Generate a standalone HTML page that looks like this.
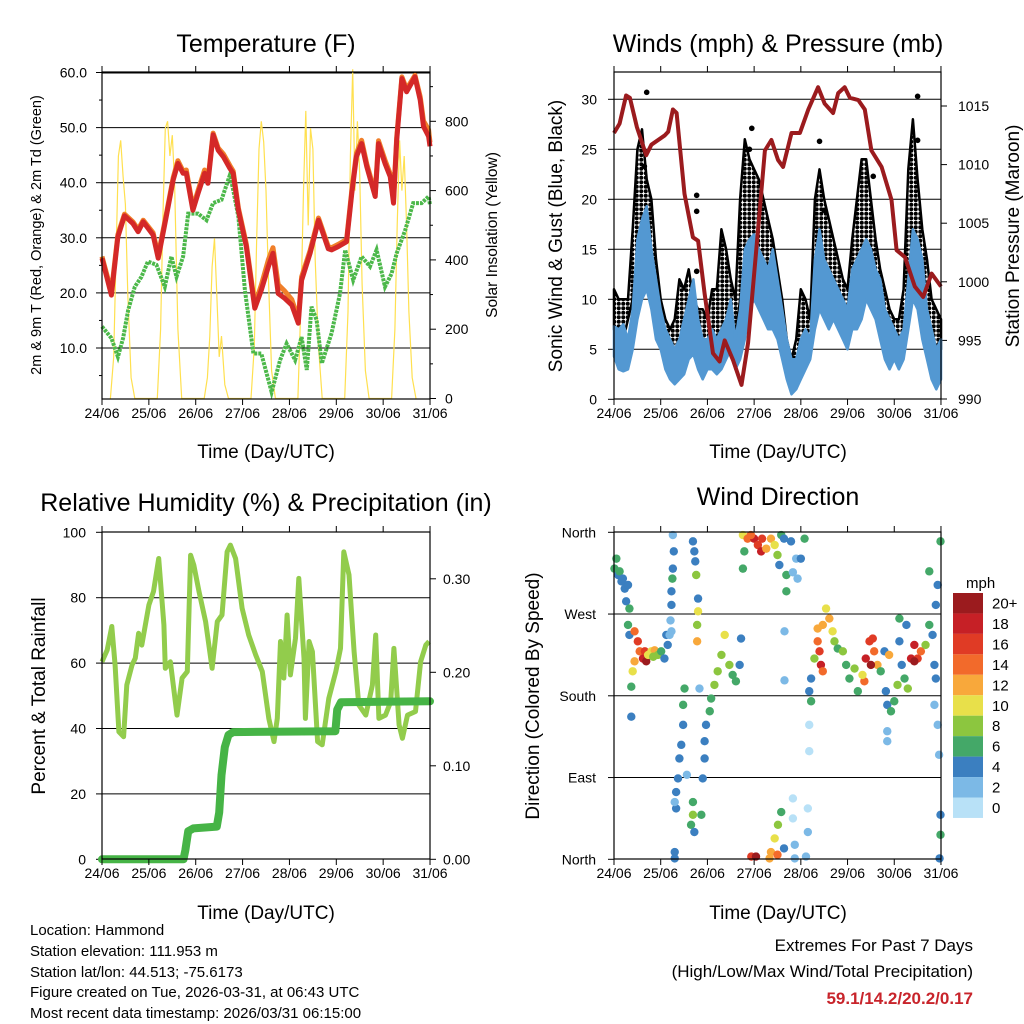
<!DOCTYPE html>
<html><head><meta charset="utf-8"><style>
html,body{margin:0;padding:0;background:#fff;}
svg{display:block;font-family:"Liberation Sans",Arial,sans-serif;}
</style></head><body>
<svg id="chart" width="1024" height="1024" viewBox="0 0 1024 1024" xmlns="http://www.w3.org/2000/svg">
<defs>
<pattern id="dots" width="4.5" height="4.5" patternUnits="userSpaceOnUse"><circle cx="2.25" cy="2.25" r="2" fill="#000"/></pattern>
</defs>
<rect width="1024" height="1024" fill="#fff"/>
<g id="g"></g>
<g font-size="25" text-anchor="middle" fill="#000">
<text x="266" y="52">Temperature (F)</text>
<text x="778" y="52">Winds (mph) &amp; Pressure (mb)</text>
<text x="266" y="511">Relative Humidity (%) &amp; Precipitation (in)</text>
<text x="778" y="505">Wind Direction</text>
</g>
<g font-size="19" text-anchor="middle">
<text x="266" y="458">Time (Day/UTC)</text>
<text x="778" y="458">Time (Day/UTC)</text>
<text x="266" y="919">Time (Day/UTC)</text>
<text x="778" y="919">Time (Day/UTC)</text>
<text transform="translate(41,235) rotate(-90)" font-size="14.5">2m &amp; 9m T (Red, Orange) &amp; 2m Td (Green)</text>
<text transform="translate(497,235) rotate(-90)" font-size="15.5">Solar Insolation (Yellow)</text>
<text transform="translate(562,236) rotate(-90)">Sonic Wind &amp; Gust (Blue, Black)</text>
<text transform="translate(1019,236) rotate(-90)">Station Pressure (Maroon)</text>
<text transform="translate(45,696) rotate(-90)">Percent &amp; Total Rainfall</text>
<text transform="translate(539,696) rotate(-90)">Direction (Colored By Speed)</text>
</g>
<g font-size="15">
<text x="30" y="935">Location: Hammond</text>
<text x="30" y="956">Station elevation: 111.953 m</text>
<text x="30" y="977">Station lat/lon: 44.513; -75.6173</text>
<text x="30" y="997">Figure created on Tue, 2026-03-31, at 06:43 UTC</text>
<text x="30" y="1018">Most recent data timestamp: 2026/03/31 06:15:00</text>
</g>
<g font-size="17" text-anchor="end">
<text x="973" y="951">Extremes For Past 7 Days</text>
<text x="973" y="977">(High/Low/Max Wind/Total Precipitation)</text>
<text x="973" y="1004" fill="#c8242b" font-weight="bold">59.1/14.2/20.2/0.17</text>
</g>
<text x="966" y="588" font-size="15">mph</text>
</svg>
<script>
// ---------- DATA ----------
const dayLabels=["24/06","25/06","26/06","27/06","28/06","29/06","30/06","31/06"];
const tempTimes=[0,0.2,0.34,0.48,0.66,0.77,0.88,1.09,1.2,1.37,1.52,1.62,1.73,1.8,1.94,2.05,2.19,2.26,2.37,2.48,2.59,2.73,2.8,2.91,3.08,3.26,3.4,3.55,3.65,3.76,3.9,4.05,4.19,4.26,4.44,4.62,4.83,4.9,5.04,5.22,5.33,5.43,5.54,5.65,5.83,5.9,6.04,6.15,6.22,6.29,6.4,6.5,6.68,6.79,6.86,6.97,7.0];
const tempRed=[26.3,19.6,30.2,34.0,32.6,31.1,32.9,30.5,26.3,33.8,40.5,43.5,41.7,41.7,35.0,38.1,41.7,39.9,48.7,45.9,44.7,42.6,41.7,35.0,28.4,17.2,20.5,24.8,27.2,19.9,19.0,17.8,14.5,22.3,27.2,33.2,28.0,27.8,28.4,29.3,38.1,44.7,47.1,42.9,37.5,47.1,43.5,41.1,36.3,47.7,58.9,56.5,59.2,55.0,50.2,48.4,46.6];
const tempOrange=[26.6,20.2,30.6,34.3,32.9,31.5,33.2,30.9,26.8,34.2,40.9,44.0,42.1,42.3,35.5,38.6,42.3,40.4,49.0,46.3,45.2,43.1,42.1,35.4,28.9,17.8,21.4,26.0,28.2,21.5,20.3,18.8,15.2,22.9,27.7,33.6,28.4,28.2,28.8,29.7,38.6,45.3,47.7,43.4,38.0,47.6,44.1,41.6,36.9,48.2,59.2,57.0,59.5,55.6,51.2,49.6,47.3];
const dewTimes=[0,0.2,0.34,0.45,0.56,0.7,0.84,0.98,1.16,1.34,1.48,1.59,1.73,1.84,2.05,2.23,2.37,2.55,2.73,2.8,2.91,3.05,3.23,3.4,3.62,3.8,3.94,4.12,4.26,4.37,4.47,4.58,4.69,4.9,5.08,5.19,5.36,5.54,5.72,5.86,6.04,6.18,6.29,6.47,6.64,6.82,6.97,7.0];
const dewVals=[13.9,11.8,8.4,11.8,16.9,21.1,22.9,25.7,25.1,21.1,26.6,22.9,26.6,34.4,34.4,33.2,36.3,36.9,41.4,38.7,33.8,20.5,9.0,9.0,2.0,7.8,10.8,7.8,12.0,6.0,17.5,15.1,7.2,12.7,19.9,27.8,22.3,26.6,24.8,27.8,21.1,23.5,27.2,31.4,36.3,36.3,37.5,36.0];
const solarHours=[0.18,0.25,0.3,0.35,0.4,0.45,0.5,0.55,0.62,0.7];
const solarDays=[
 [0,120,420,700,745,640,560,300,60,0],
 [0,200,520,780,800,700,760,620,200,0],
 [0,60,180,380,462,300,120,180,40,0],
 [0,150,450,720,800,740,600,350,80,0],
 [0,300,600,830,500,780,720,400,150,0],
 [0,250,700,950,600,800,650,330,80,0],
 [0,200,500,745,600,700,500,250,60,0]];
const presTimes=[0,0.12,0.26,0.34,0.49,0.69,0.8,1.09,1.16,1.26,1.34,1.51,1.69,1.8,1.94,2.12,2.26,2.37,2.55,2.73,2.87,3.09,3.23,3.37,3.51,3.62,3.8,3.98,4.16,4.37,4.51,4.69,4.8,4.94,5.05,5.23,5.37,5.51,5.73,5.94,6.05,6.23,6.44,6.62,6.8,7.0];
const presVals=[1012.7,1013.5,1015.9,1015.7,1013.2,1010.8,1011.7,1012.5,1012.8,1014.7,1014.4,1007.5,1003.8,1003.5,999.0,993.9,993.2,995.0,993.3,991.2,994.8,1004.7,1011.2,1012.1,1010.4,1009.8,1012.7,1012.7,1014.7,1016.6,1015.2,1014.4,1016.1,1016.6,1015.7,1015.5,1014.7,1011.2,1009.8,1007.0,1002.7,1002.1,999.6,998.7,1000.7,999.6];
const windStep=0.1;
const windLow=[4.3,3,2.8,3,5,8,10,11,9,6,5,3,2,1.5,2,2.5,4,4.5,3,2,3,3,2.5,3,4,5,3,4,6,9,10,9,8,7,7,6,4,2,0.5,1,2,3,4,7,9,8,7,8,7,6,5,7,7,8,10,9,8,6,4,3,4,3,4,7,10,9,6,4,2,1,2];
const windHigh=[7.3,7,7.5,6,9,16,18,19.3,15,12,9,7,6,5,6,8,10,12,8,6,6,7,6,7,8,10,6,9,15,16,16.5,15,14,13,15,12,9,6,4,4,6,7,6,14,17,14,13,12,11,10,9,13,14,15,16,15,13,12,9,8,7,6,7,12,17,16,14,9,7,5,6];
const gustLow=[7,5,6,8,10,14,16,14,11,8,6,5,4,4,6,5,7,6,4,4,5,6,5,7,8,6,6,10,12,13,12,13,12,10,9,7,6,3,1,2,3,6,5,10,14,13,10,9,9,8,6,9,10,13,15,12,10,7,6,5,5,5,6,12,17,14,9,7,5,4,5];
const gustHigh=[11,10,10,10,17,25,27,22,20,14,10,8,7,8,12,11,13,10,9,9,8,11,11,17,15,12,10,20,26,24,23,22,20,18,16,13,10,6,4,6,11,10,8,20,23,20,18,16,14,12,11,16,20,24,24,20,16,13,11,9,8,8,11,23,28,22,17,14,10,9,8];
const gustOutT=[0.7,0.65,1.77,1.77,1.77,2.95,2.9,4.4,4.5,5.5,5.55,6.5,6.5];
const gustOutV=[30.7,23.3,20.4,18.8,12.8,27.1,25,25.8,18.9,14.9,22.3,30.3,25.9];
const rhTimes=[0,0.11,0.21,0.28,0.36,0.46,0.53,0.64,0.71,0.78,0.85,1.0,1.1,1.21,1.32,1.35,1.46,1.6,1.71,1.82,1.89,1.96,2.07,2.21,2.35,2.46,2.56,2.67,2.74,2.85,2.99,3.13,3.28,3.42,3.56,3.67,3.74,3.81,3.88,3.95,4.02,4.13,4.2,4.31,4.34,4.42,4.49,4.6,4.7,4.84,4.99,5.09,5.16,5.27,5.38,5.48,5.63,5.77,5.84,5.91,6.05,6.16,6.23,6.34,6.41,6.52,6.69,6.8,6.91,6.98];
const rhVals=[60.4,64,71.2,59.4,39,37.5,53.3,59.4,61.5,69.1,65.5,77.8,81.9,92,71.7,58.4,60.4,44.1,55.4,57.4,93,90,81.9,72.7,58.4,72.7,74.7,94,96.1,92,76.8,68.6,62.5,57.4,43.1,36,43.1,66.6,55.4,74.7,56.4,67.6,85.9,61.5,43.1,66.6,63.5,36,35,49.2,57.4,64.5,94,87,63.5,47.2,44.1,53.3,68.6,43.1,44.1,48.2,64.5,41.1,37,44.1,45.2,60.4,65.5,66.6];
const precipTimes=[0,1.74,1.78,1.84,1.95,2.45,2.5,2.55,2.62,2.7,2.8,4.98,5.02,5.1,7.0];
const precipVals=[0,0,0.01,0.03,0.033,0.035,0.05,0.09,0.12,0.133,0.136,0.137,0.16,0.168,0.169];
const dirTimes=[0.01,0.05,0.09,0.16,0.23,0.26,0.33,0.12,0.19,0.3,
0.3,0.33,0.44,0.51,0.55,0.62,0.69,0.66,0.44,0.4,0.37,0.8,0.87,0.94,1.01,1.08,1.15,1.12,0.37,0.73,0.84,
1.26,1.28,1.26,1.25,1.23,1.23,1.21,1.23,1.19,
1.69,1.72,1.74,1.76,1.8,1.8,1.78,1.78,
1.51,1.48,1.48,1.44,1.4,1.37,1.33,1.33,1.69,1.69,1.65,1.72,1.87,1.9,1.94,1.94,1.97,2.05,2.08,2.15,2.22,2.3,2.37,2.47,2.54,2.61,2.69,2.72,1.3,1.3,1.56,1.3,1.83,
2.76,2.79,2.76,2.86,3.0,3.08,3.15,3.26,3.36,3.44,3.5,2.93,3.17,3.58,3.69,3.69,3.79,3.9,3.93,4.0,4.08,3.83,3.64,3.54,
2.94,3.04,3.36,3.44,3.51,3.58,3.33,3.5,3.64,3.83,3.83,3.87,3.87,4.15,4.15,4.11,
3.65,3.65,
4.18,4.22,4.29,4.36,4.4,4.43,4.47,4.54,4.61,4.68,4.72,4.79,4.9,4.97,5.04,5.15,5.22,4.18,4.18,4.47,4.36,4.22,
5.36,5.39,5.47,5.54,5.57,5.64,5.71,5.79,5.82,5.89,5.85,5.93,6.0,6.07,6.11,6.11,6.16,6.22,6.29,6.36,6.43,6.5,6.57,6.67,6.75,6.82,6.86,6.89,6.75,6.93,6.89,6.86,6.93,6.96,6.99,6.99,6.99,6.97,5.85,5.85,6.26,5.32,5.5,6.43];
const dirDeg=[320,331,313,306,298,284,276,317,309,302,
258,247,251,240,229,221,218,229,218,207,190,229,230,225,229,221,236,247,157,225,223,
357,339,320,309,295,280,263,251,247,
350,339,328,313,287,273,258,240,
188,170,148,126,111,89,74,56,63,49,38,30,49,89,111,130,148,163,177,192,207,225,247,214,203,196,214,243,8,1,93,63,188,
357,339,320,353,353,346,339,342,353,346,335,357,353,357,313,295,350,331,309,331,353,316,353,324,
3,3,8,23,38,52,1,5,12,67,45,16,1,56,30,3,
251,197,
185,199,221,240,229,214,258,276,265,251,240,232,229,214,199,210,185,148,119,207,254,174,
196,221,240,243,229,214,207,229,185,225,170,163,174,192,265,240,214,199,188,221,236,221,229,236,258,247,214,199,317,302,280,170,148,115,49,27,350,1,141,130,258,203,214,218];
const dirSpeed=[6,6,5,4,4,4,6,6,4,4,
6,4,14,16,14,18,20,16,12,10,6,10,12,8,6,4,4,4,4,10,8,
2,4,4,6,4,4,2,2,2,
4,4,4,8,4,10,8,12,
6,6,4,4,4,4,4,4,6,8,6,4,6,4,4,4,4,6,6,8,8,8,10,8,6,6,4,4,4,4,2,2,2,
10,6,6,14,18,16,18,12,12,10,8,14,16,6,6,6,4,2,2,4,6,2,4,4,
16,20,12,10,8,6,12,14,4,0,0,2,2,0,2,2,
2,2,
4,4,8,14,16,18,12,10,12,10,8,6,8,6,6,8,6,0,0,14,12,6,
14,18,16,16,14,12,6,4,4,12,4,6,6,8,6,4,4,6,8,18,18,16,14,8,6,4,4,4,6,4,4,2,2,2,4,6,6,4,2,2,4,10,20,20];
const cbLabels=["20+","18","16","14","12","10","8","6","4","2","0"];
const cbColors=["#9b1b1e","#c62026","#e03b25","#f26a2b","#f8a83b","#e8e04a","#8cc63f","#44a868","#3b7fc0","#7cb9e6","#b8e1f7"];

// ---------- DRAW ----------
const NS="http://www.w3.org/2000/svg";
const G=document.getElementById('g');
function mk(tag,attrs,parent){const e=document.createElementNS(NS,tag);for(const k in attrs)e.setAttribute(k,attrs[k]);(parent||G).appendChild(e);return e;}
function line(x1,y1,x2,y2,w){return mk('line',{x1,y1,x2,y2,stroke:'#000','stroke-width':w||1});}
function txt(x,y,s,anchor,size){const t=mk('text',{x,y,'font-size':size||14,'text-anchor':anchor||'start'});t.textContent=s;return t;}
function pathFrom(xs,ys){return xs.map((x,i)=>(i?'L':'M')+x.toFixed(1)+','+ys[i].toFixed(1)).join('');}

const xL=d=>102+d*46.86, xR=d=>614+d*46.71;
const yT=v=>72.5+(60-v)*5.51, yS=v=>398.5-v*0.3465;
const yW=v=>399.3-v*10, yP=p=>399-(p-990)*11.72;
const yRH=v=>859.3-v*3.27, yPr=v=>859.3-v*935;
const yD=d=>859.3-d*327/360;

function frame(x0,x1,y0,y1,xs,name){
  const r=mk('rect',{x:x0,y:y0,width:x1-x0,height:y1-y0,fill:'none',stroke:'#000','stroke-width':1.2});
  
  
  for(let d=0;d<=7;d++){const x=xs(d);line(x,y1,x,y1+6);line(x,y0,x,y0-6);
    const t=txt(x,y1+19,dayLabels[d],'middle',14);
    
    }
}
// Panel 1: temperature
[10,20,30,40,50,60].forEach(v=>{line(102,yT(v),430,yT(v),v==60?2:1);line(96,yT(v),102,yT(v));
  const t=txt(87,yT(v)+5,v.toFixed(1),'end');
  
  });
[5,15,25,35,45,55].forEach(v=>line(99,yT(v),102,yT(v)));
[0,200,400,600,800].forEach(v=>{line(430,yS(v),436,yS(v));
  const t=txt(445,yS(v)+5,String(v),'start');
  
  });
[100,300,500,700,900].forEach(v=>line(430,yS(v),433,yS(v)));
const sx=[],sy=[];
solarDays.forEach((vals,d)=>vals.forEach((v,i)=>{sx.push(xL(d+solarHours[i]));sy.push(yS(v));}));
let e=mk('path',{d:pathFrom(sx,sy),fill:'none',stroke:'#ffe04f','stroke-width':1.2});


e=mk('path',{d:pathFrom(dewTimes.map(xL),dewVals.map(yT)),fill:'none',stroke:'#4cb84a','stroke-width':4,'stroke-dasharray':'3,1'});


e=mk('path',{d:pathFrom(tempTimes.map(xL),tempOrange.map(yT)),fill:'none',stroke:'#f07f2a','stroke-width':5,'stroke-linejoin':'round'});


e=mk('path',{d:pathFrom(tempTimes.map(xL),tempRed.map(yT)),fill:'none',stroke:'#d42828','stroke-width':5,'stroke-linejoin':'round'});


frame(102,430,72,399,xL,'temp');

// Panel 2: winds
[5,10,15,20,25,30].forEach(v=>line(614,yW(v),941,yW(v)));
[0,5,10,15,20,25,30].forEach(v=>{line(608,yW(v),614,yW(v));
  const t=txt(597,yW(v)+5,String(v),'end');
  
  });
[990,995,1000,1005,1010,1015].forEach(v=>{line(941,yP(v),947,yP(v));
  const t=txt(958,yP(v)+5,String(v),'start');
  
  });
const wT=windLow.map((_,i)=>xR(i*windStep));
function band(lo,hi,color,name,stroke){
  const xsF=wT, ysH=hi.map(yW), ysL=lo.map(yW);
  let d=pathFrom(xsF,ysH);
  for(let i=xsF.length-1;i>=0;i--)d+='L'+xsF[i].toFixed(1)+','+ysL[i].toFixed(1);
  const p=mk('path',{d:d+'Z',fill:color,stroke:stroke,'stroke-width':2.5,'stroke-linejoin':'round'});
  
  
}
band(gustLow,gustHigh,'url(#dots)','gust-band','#000');
gustOutT.forEach((t,i)=>{const c=mk('circle',{cx:xR(t),cy:yW(gustOutV[i]),r:2.8,fill:'#000'});
  
  });
band(windLow,windHigh,'#5398d2','wind-speed-band','#5398d2');
e=mk('path',{d:pathFrom(presTimes.map(xR),presVals.map(yP)),fill:'none',stroke:'#9b1b1e','stroke-width':4,'stroke-linejoin':'round'});


frame(614,941,72,399,xR,'wind');

// Panel 3: RH & precip
[20,40,60,80].forEach(v=>line(102,yRH(v),430,yRH(v)));
[0,20,40,60,80,100].forEach(v=>{line(96,yRH(v),102,yRH(v));
  const t=txt(86,yRH(v)+5,String(v),'end');
  
  });
[0,0.1,0.2,0.3].forEach(v=>{line(430,yPr(v),436,yPr(v));
  const t=txt(443,yPr(v)+5,v.toFixed(2),'start');
  
  });
e=mk('path',{d:pathFrom(rhTimes.map(xL),rhVals.map(yRH)),fill:'none',stroke:'#92cc4c','stroke-width':5,'stroke-linejoin':'round'});


e=mk('path',{d:pathFrom(precipTimes.map(xL),precipVals.map(yPr)),fill:'none',stroke:'#46b446','stroke-width':8,'stroke-linejoin':'round','stroke-linecap':'round'});


frame(102,430,532,859,xL,'rh');

// Panel 4: wind direction
const dirNames=["North","East","South","West","North"];
[0,90,180,270,360].forEach((v,i)=>{if(v>0&&v<360)line(614,yD(v),941,yD(v));line(608,yD(v),614,yD(v));
  const t=txt(596,yD(v)+5,dirNames[i],'end');
  
  });
dirTimes.forEach((t,i)=>{const idx=10-Math.min(10,Math.floor(dirSpeed[i]/2));
  const c=mk('circle',{cx:xR(t),cy:yD(dirDeg[i]),r:4.2,fill:cbColors[idx]});
  
  });
frame(614,941,532,859,xR,'dir');

// Colorbar
cbColors.forEach((c,i)=>{const y=593+i*20.45;
  const r=mk('rect',{x:953,y:y,width:30,height:20.45,fill:c});
  
  
  const t=txt(992,y+15.5,cbLabels[i],'start',15);
  
  });
</script>
</body></html>
